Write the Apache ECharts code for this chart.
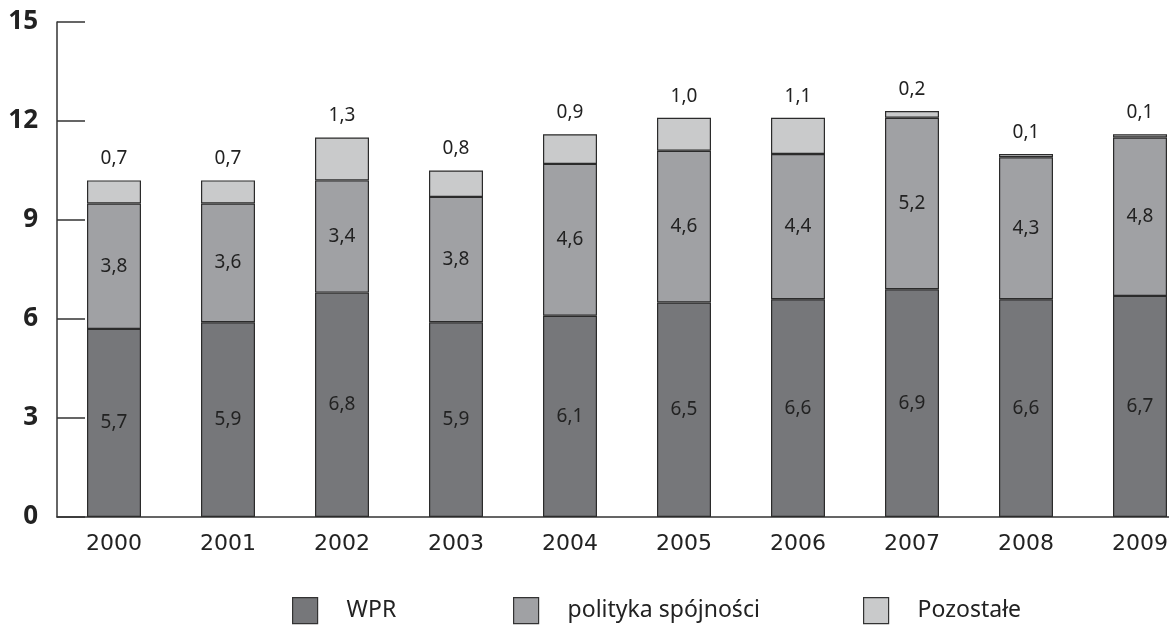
<!DOCTYPE html>
<html>
<head>
<meta charset="utf-8">
<script src="https://cdn.jsdelivr.net/npm/echarts@6/dist/echarts.min.js"></script>
<style>
  html, body { margin: 0; padding: 0; background: #fff; }
  #main { width: 1169px; height: 626px; }
</style>
</head>
<body>
<div id="main"></div>
<script>
const years = ["2000", "2001", "2002", "2003", "2004", "2005", "2006", "2007", "2008", "2009"];
const wpr = [5.7, 5.9, 6.8, 5.9, 6.1, 6.5, 6.6, 6.9, 6.6, 6.7];
const spojnosc = [3.8, 3.6, 3.4, 3.8, 4.6, 4.6, 4.4, 5.2, 4.3, 4.8];
const pozostale = [0.7, 0.7, 1.3, 0.8, 0.9, 1.0, 1.1, 0.2, 0.1, 0.1];
const names = ["WPR", "polityka spójności", "Pozostałe"];
const colors = ["#76777a", "#a0a1a4", "#c9cacb"];

// polski przecinek dziesiętny
const fmt = p => p.value.toFixed(1).replace(".", ",");

function makeSeries(name, data, color, labelPos) {
  return {
    name: name,
    type: "bar",
    stack: "total",
    barWidth: 54,
    data: data,
    itemStyle: { color: color, borderColor: "#2b2b2b", borderWidth: 1.2 },
    label: {
      show: true,
      position: labelPos,
      distance: 12,
      formatter: fmt,
      color: "#222",
      fontSize: 19,
      fontFamily: "Noto Sans"
    },
    emphasis: { disabled: true }
  };
}

function legendAt(name, left) {
  return {
    data: [name],
    left: left,
    top: 597,
    padding: 0,
    itemWidth: 25,
    itemHeight: 26,
    icon: "rect",
    itemStyle: { borderColor: "#333", borderWidth: 1.2 },
    textStyle: { fontSize: 23, color: "#222", fontFamily: "Noto Sans", padding: [0, 0, 0, 24] },
    selectedMode: false
  };
}

const chart = echarts.init(document.getElementById("main"));
chart.setOption({
  animation: false,
  color: colors,
  // wykres w oryginale jest przycięty z prawej strony
  grid: { left: 57, width: 1140, top: 22, bottom: 109, outerBoundsMode: "none", containLabel: false },
  legend: [legendAt(names[0], 292), legendAt(names[1], 513), legendAt(names[2], 863)],
  xAxis: {
    type: "category",
    data: years,
    axisLine: { lineStyle: { color: "#333", width: 1.5 } },
    axisTick: { inside: true, length: 11, lineStyle: { color: "#333", width: 1.5 } },
    axisLabel: { fontSize: 22, color: "#222", fontFamily: "DejaVu Sans", margin: 16 }
  },
  yAxis: {
    type: "value",
    min: 0,
    max: 15,
    interval: 3,
    splitLine: { show: false },
    axisLine: { show: true, lineStyle: { color: "#333", width: 1.5 } },
    axisTick: { show: true, inside: true, length: 28, lineStyle: { color: "#333", width: 1.5 } },
    axisLabel: { fontSize: 26, fontWeight: "bold", color: "#222", fontFamily: "Noto Sans", margin: 19 }
  },
  series: [
    makeSeries(names[0], wpr, colors[0], "inside"),
    makeSeries(names[1], spojnosc, colors[1], "inside"),
    makeSeries(names[2], pozostale, colors[2], "top")
  ]
});
</script>
</body>
</html>
